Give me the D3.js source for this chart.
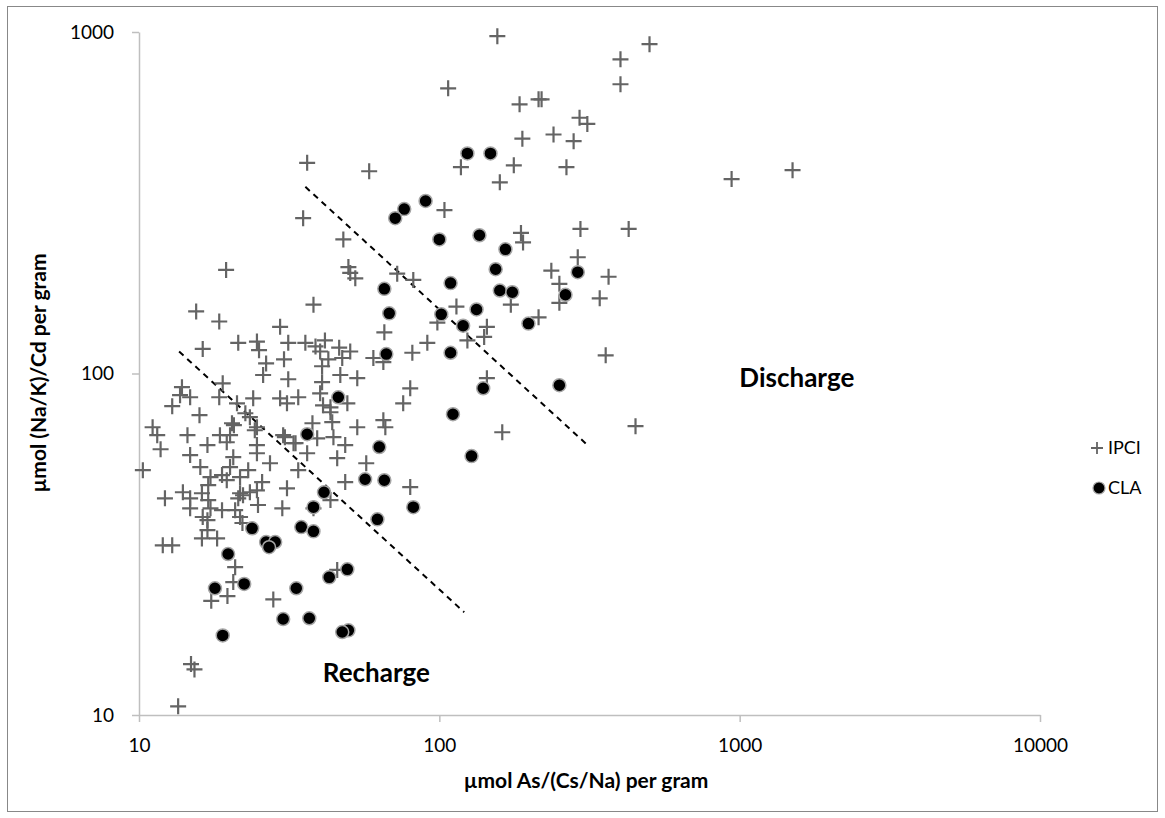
<!DOCTYPE html>
<html>
<head>
<meta charset="utf-8">
<script src="https://cdn.jsdelivr.net/npm/d3@7"></script>
<style>
  body { margin: 0; background: #fff; }
  svg { display: block; }
  text { font-family: Lato, "Open Sans", sans-serif; fill: #000; }
</style>
</head>
<body>
<svg id="chart" width="1165" height="818"></svg>
<script>
// Axis tick values (log scales)
const xTickValues = [10, 100, 1000, 10000];
const yTickValues = [10, 100, 1000];

// IPCI samples: [As/(Cs/Na), (Na/K)/Cd]  (µmol per gram)
const ipci = [
  [156,972],[501,921],[401,832],[401,703],[185,614],[214,635],[219,635],[293,561],[311,538],[240,501],
  [189,487],[280,479],[177,407],[265,402],[159,363],[118,402],[107,684],[36.3,414],[58.4,391],[940,371],[1500,394],
  [187,258],[190,242],[295,265],[427,265],[289,219],[236,200],[251,183],[366,192],[342,166],[251,161],
  [173,159],[214,146],[144,137],[141,128],[124,125],[358,113],[144,96.9],[162,67.3],[450,70.1],
  [35.2,285],[104,301],[47.9,247],[49.8,205],[50.5,197],[52.5,190],[72.4,196],[81.9,188],
  [38.1,159],[65.6,132],[114,157],[98.5,141],[91.2,123],[81.3,115],[35.8,123],[38.7,120],[41.6,125],[40.1,116],
  [46.4,119],[50.5,116],[47.5,111],[42.7,110],[40.7,105],[60.3,111],[65.1,108],[53.3,96.9],[46.8,99],[40.7,94.3],
  [33.9,85.2],[40.1,87.5],[41.0,80.7],[43.4,79.6],[49.4,81.8],[80.0,90.5],[75.8,81.8],[37.8,71.5],[44.0,72.0],
  [53.3,69.6],[65.1,73.0],[66.1,69.6],[43.4,77.0],
  [30.6,65.1],[33.2,62.5],[39.2,64.6],[44.4,65.1],[48.6,61.7],[36.3,58.4],[45.7,56.5],[57.1,54.6],[33.9,52.1],
  [48.6,48.1],[80.0,46.5],[31.1,46.1],[43.4,42.6],[38.1,40.3],[30.0,40.3],[45.7,26.6],
  [15.5,152],[18.5,142],[29.5,137],[21.4,123],[24.7,124],[25.1,117],[31.4,123],[16.3,118],[26.5,107],[30.4,110],
  [25.9,99],[31.4,96.2],[19.0,93.6],[13.9,91.2],[13.7,86.4],[14.8,85.2],[18.5,85.2],[24.0,84.6],[21.2,81.8],
  [29.5,84.6],[31.1,81.8],[12.9,80.2],[15.9,75.5],[22.6,76.5],[23.4,74.5],[11.1,69.6],[20.4,71.5],[24.7,69.6],
  [11.5,66.0],[14.5,66.0],[18.6,66.0],[20.1,66.0],[20.7,70.6],[24.3,68.2],[30.2,66.0],[32.7,62.5],[16.9,61.7],
  [19.6,62.9],[24.7,61.7],[11.8,60.0],[14.8,57.7],[20.6,56.9],[24.7,58.4],[27.3,54.6],[16.0,53.2],[20.1,53.2],
  [23.1,52.1],[10.3,52.1],[18.9,50.4],[17.3,49.7],[21.7,49.7],[25.7,48.1],[17.0,47.1],[19.6,48.7],[24.7,45.5],
  [14.0,44.9],[16.2,44.6],[21.7,44.6],[23.4,44.9],[12.2,43.1],[14.8,43.1],[17.0,42.6],[21.4,43.1],[22.2,44.0],
  [14.8,40.3],[17.3,40.3],[18.9,39.8],[20.9,39.8],[24.9,41.2],[16.3,38.0],[21.7,38.0],[16.9,37.2],[22.1,36.5],
  [16.9,34.8],[16.2,32.9],[18.2,32.9],[12.0,31.4],[12.9,31.4],[20.9,27.1],
  [20.6,24.5],[19.7,22.3],[17.4,21.6],[28.0,21.8],[14.9,14.1],[15.3,13.6],[13.5,10.6],[19.5,201]
];

// CLA samples: [As/(Cs/Na), (Na/K)/Cd]  (µmol per gram)
const cla = [
  [124,441],[148,441],[90,320],[76.4,303],[71.3,285],[100,247],[136,254],[166,231],[154,202],[159,175],
  [175,173],[133,154],[120,138],[198,140],[289,198],[263,170],[65.6,177],[68.1,150],[101.5,149],[109,184],
  [66.6,114],[109,115],[46.1,85.2],[111,76],[140,90.5],[251,92.4],[36.3,66.4],[63.1,60.9],[128,57.3],
  [56.6,49.0],[65.6,48.7],[41.3,44.9],[38.1,40.6],[81.9,40.6],[62.2,37.4],[34.7,35.5],[38.1,34.5],
  [49.4,26.7],[43.0,25.3],[33.4,23.5],[30.2,19.1],[36.9,19.2],[49.8,17.7],[47.5,17.5],[23.8,35.2],
  [26.5,32.1],[28.4,32.1],[27.1,31.0],[19.8,29.6],[17.9,23.5],[22.4,24.2],[19.0,17.1]
];

// Dividing lines between recharge and discharge zones
const rechargeDivide = [[13.6,116],[121,20]];
const dischargeDivide = [[35.8,352],[316,61]];

// Zone annotations
const zoneLabels = [
  { text: "Discharge", x: 1550, y: 97 },
  { text: "Recharge", x: 61.7, y: 13.3 }
];

const legendItems = [
  { name: "IPCI", shape: "cross" },
  { name: "CLA", shape: "dot" }
];

const svg = d3.select("#chart");

// outer chart frame
svg.append("rect")
  .attr("x", 7.5).attr("y", 6.5)
  .attr("width", 1150).attr("height", 805)
  .attr("fill", "#fff").attr("stroke", "#888").attr("stroke-width", 1);

const x = d3.scaleLog().domain([10, 10000]).range([139, 1040]);
const y = d3.scaleLog().domain([10, 1000]).range([715, 32]);

const axisColor = "#bfbfbf";

// y axis
const gy = svg.append("g")
  .attr("transform", `translate(${x(10)},0)`)
  .call(d3.axisLeft(y).tickValues(yTickValues).tickFormat(d3.format("d"))
    .tickSizeInner(7).tickSizeOuter(0).tickPadding(18));
// x axis
const gx = svg.append("g")
  .attr("transform", `translate(0,${y(10)})`)
  .call(d3.axisBottom(x).tickValues(xTickValues).tickFormat(d3.format("d"))
    .tickSizeInner(7).tickSizeOuter(0).tickPadding(17));

[gx, gy].forEach(g => {
  g.select(".domain").attr("stroke", axisColor).attr("stroke-width", 1.5);
  g.selectAll(".tick line").attr("stroke", axisColor).attr("stroke-width", 1.5);
  g.selectAll(".tick text").attr("font-size", 19).attr("fill", "#000")
    .style("font-family", 'Lato, "Open Sans", sans-serif');
});

// axis titles
svg.append("text")
  .attr("x", 586).attr("y", 788)
  .attr("text-anchor", "middle")
  .attr("font-size", 21).attr("font-weight", "bold")
  .text("µmol As/(Cs/Na) per gram");

svg.append("text")
  .attr("transform", `translate(46,373) rotate(-90)`)
  .attr("text-anchor", "middle")
  .attr("font-size", 21).attr("font-weight", "bold")
  .text("µmol (Na/K)/Cd per gram");

// dashed dividing lines
const line = d3.line().x(d => x(d[0])).y(d => y(d[1]));
svg.selectAll("path.divide")
  .data([rechargeDivide, dischargeDivide])
  .join("path")
  .attr("class", "divide")
  .attr("d", line)
  .attr("fill", "none")
  .attr("stroke", "#000")
  .attr("stroke-width", 2)
  .attr("stroke-dasharray", "6,5");

// cross marker
const crossPath = (s) => `M${-s},0H${s}M0,${-s}V${s}`;
const crossColor = "#646464";

svg.append("g").selectAll("path")
  .data(ipci)
  .join("path")
  .attr("transform", d => `translate(${x(d[0])},${y(d[1])})`)
  .attr("d", crossPath(8))
  .attr("stroke", crossColor)
  .attr("stroke-width", 2.2)
  .attr("fill", "none");

svg.append("g").selectAll("circle")
  .data(cla)
  .join("circle")
  .attr("cx", d => x(d[0]))
  .attr("cy", d => y(d[1]))
  .attr("r", 6.5)
  .attr("fill", "#000")
  .attr("stroke", "#a6a6a6")
  .attr("stroke-width", 1.5);

// zone labels
svg.selectAll("text.zone")
  .data(zoneLabels)
  .join("text")
  .attr("class", "zone")
  .attr("x", d => x(d.x))
  .attr("y", d => y(d.y))
  .attr("dy", "0.35em")
  .attr("text-anchor", "middle")
  .attr("font-size", 26)
  .attr("font-weight", "bold")
  .text(d => d.text);

// legend
const legend = svg.append("g").attr("transform", "translate(1097,448)");
const li = legend.selectAll("g").data(legendItems).join("g")
  .attr("transform", (d, i) => `translate(0,${i * 40})`);
li.filter(d => d.shape === "cross").append("path")
  .attr("d", crossPath(6)).attr("stroke", crossColor).attr("stroke-width", 1.8);
li.filter(d => d.shape === "dot").append("circle")
  .attr("cx", 2).attr("r", 6).attr("fill", "#000")
  .attr("stroke", "#a6a6a6").attr("stroke-width", 1.2);
li.append("text")
  .attr("x", 11).attr("dy", "0.35em")
  .attr("font-size", 18)
  .text(d => d.name);
</script>
</body>
</html>
